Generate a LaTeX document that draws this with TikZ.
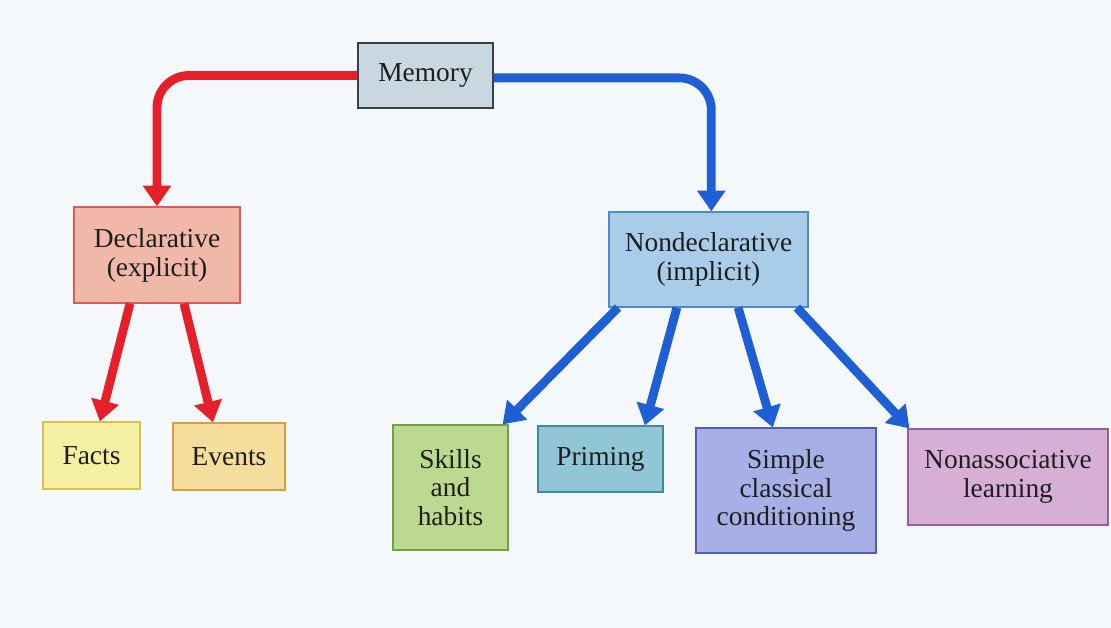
\documentclass[tikz,border=0pt]{standalone}
\usepackage{fontspec}
\setmainfont{Liberation Serif}
\usetikzlibrary{arrows.meta, calc}
\definecolor{paper}{HTML}{F4F8FA}
\definecolor{ink}{HTML}{1E1E1E}
\definecolor{redline}{HTML}{E5202B}
\definecolor{blueline}{HTML}{1F5FD6}
\definecolor{mem-fill}{HTML}{C8D7E0}
\definecolor{mem-line}{HTML}{3A3F45}
\definecolor{decl-fill}{HTML}{F0B8A8}
\definecolor{decl-line}{HTML}{D85E55}
\definecolor{nondecl-fill}{HTML}{A9CDE9}
\definecolor{nondecl-line}{HTML}{4C8CC8}
\definecolor{facts-fill}{HTML}{F5EFA4}
\definecolor{facts-line}{HTML}{D9C24A}
\definecolor{events-fill}{HTML}{F5DD9E}
\definecolor{events-line}{HTML}{E09A3A}
\definecolor{skills-fill}{HTML}{BBDA90}
\definecolor{skills-line}{HTML}{6FA33F}
\definecolor{priming-fill}{HTML}{90C6D5}
\definecolor{priming-line}{HTML}{3F8A9E}
\definecolor{simple-fill}{HTML}{A6B0E6}
\definecolor{simple-line}{HTML}{4E5EB6}
\definecolor{nonassoc-fill}{HTML}{D6AED6}
\definecolor{nonassoc-line}{HTML}{946098}
\tikzset{
  box/.style={draw=#1-line, fill=#1-fill, line width=0.8pt, inner sep=0pt, align=center,
    text=ink, font=\fontsize{19.5}{20.5}\selectfont},
  redarr/.style={-{Triangle[width=0.68cm, length=0.52cm]}, line width=0.22cm, draw=redline},
  bluearr/.style={-{Triangle[width=0.68cm, length=0.52cm]}, line width=0.22cm, draw=blueline},
}
\begin{document}
\begin{tikzpicture}[x=0.025cm, y=-0.025cm]
    \useasboundingbox[fill=paper] (0,0) rectangle (1111,628);
    \node[box=mem, minimum width=3.375cm, minimum height=1.625cm] (memory) at (425.5,75.5) {Memory};
    \node[box=decl, minimum width=4.15cm, minimum height=2.4cm] (decl) at (157,255) {Declarative\\(explicit)};
    \node[box=nondecl, minimum width=4.975cm, minimum height=2.375cm] (nondecl) at (708.5,259.5) {Nondeclarative\\(implicit)};
    \node[box=facts, minimum width=2.425cm, minimum height=1.675cm] (facts) at (91.5,455.5) {Facts};
    \node[box=events, minimum width=2.8cm, minimum height=1.675cm] (events) at (229,456.5) {Events};
    \node[box=skills, minimum width=2.875cm, minimum height=3.125cm] (skills) at (450.5,487.5) {Skills\\and\\habits};
    \node[box=priming, minimum width=3.125cm, minimum height=1.65cm] (priming) at (600.5,459) {Priming};
    \node[box=simple, minimum width=4.5cm, minimum height=3.125cm] (simple) at (786,490.5) {Simple\\classical\\conditioning};
    \node[box=nonassoc, minimum width=5cm, minimum height=2.4cm] (nonassoc) at (1008,477) {Nonassociative\\learning};
    \draw[redarr, rounded corners=0.8cm] (memory.west) -| (decl.north);
    \draw[bluearr, rounded corners=0.8cm] ([yshift=-0.06cm]memory.east) -| ([xshift=0.07cm]nondecl.north);
    \draw[redarr] ([xshift=-0.675cm]decl.south) -- ([xshift=0.21cm]facts.north);
    \draw[redarr] ([xshift=0.675cm]decl.south) -- ([xshift=-0.4cm]events.north);
    \draw[bluearr] ([xshift=-2.26cm]nondecl.south) -- ([xshift=-0.15cm]skills.north east);
    \draw[bluearr] ([xshift=-0.79cm]nondecl.south) -- ([xshift=1.11cm]priming.north);
    \draw[bluearr] ([xshift=0.74cm]nondecl.south) -- ([xshift=-0.33cm]simple.north);
    \draw[bluearr] ([xshift=2.21cm]nondecl.south) -- ([xshift=0.05cm]nonassoc.north west);
  \end{tikzpicture}
\end{document}
